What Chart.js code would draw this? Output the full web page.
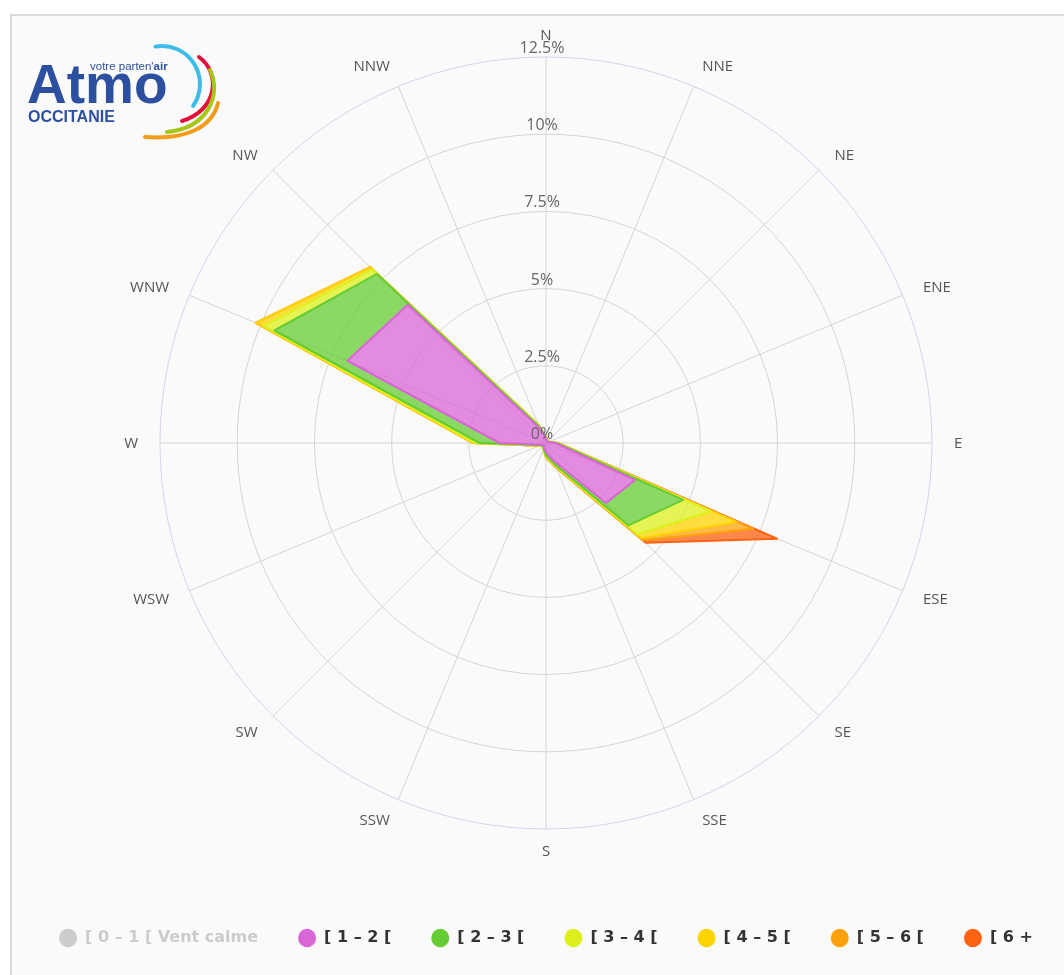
<!DOCTYPE html>
<html>
<head>
<meta charset="utf-8">
<script src="https://cdn.jsdelivr.net/npm/chart.js@4.4.1/dist/chart.umd.min.js"></script>
<style>
  html, body { margin: 0; padding: 0; background: #ffffff; overflow: hidden; width: 1064px; height: 975px; }
  #frame { position: absolute; left: 10px; top: 14px; width: 1080px; height: 990px;
           border: 2px solid #d9d9d9; background: #fafafa; }
  #wrap { position: absolute; left: -4px; top: 0; width: 1100px; height: 975px; }
  #logo { position: absolute; left: 0; top: 0; }
</style>
</head>
<body>
<div id="frame"></div>
<div id="wrap"><canvas id="rose" width="1100" height="975"></canvas></div>
<svg id="logo" width="240" height="150" font-family="Liberation Sans, Arial, sans-serif">
  <text x="90" y="70" font-size="11.5" fill="#2d4fa0">votre parten'<tspan font-weight="bold">air</tspan></text>
  <text x="27" y="103" font-size="55" font-weight="bold" fill="#2d4fa0">Atmo</text>
  <text x="28" y="122" font-size="16" font-weight="bold" fill="#2d4fa0">OCCITANIE</text>
  <g fill="none" stroke-width="4" stroke-linecap="round">
    <path d="M155.4,46.6 A38,38 0 0 1 193.1,105.8" stroke="#3bbde8"/>
    <path d="M199,57 C221,73 218,110 182,121" stroke="#e4103c"/>
    <path d="M210,70 C222,95 208,128 167,132" stroke="#a6c61a"/>
    <path d="M218,103 C212,128 185,140 145,137" stroke="#f39c1a"/>
  </g>
</svg>
<script>
const directions = ['N', 'NNE', 'NE', 'ENE', 'E', 'ESE', 'SE', 'SSE',
                    'S', 'SSW', 'SW', 'WSW', 'W', 'WNW', 'NW', 'NNW'];

const bandNames = ['[ 1 – 2 [', '[ 2 – 3 [', '[ 3 – 4 [', '[ 4 – 5 [', '[ 5 – 6 [', '[ 6 +'];
const bandColors = ['#d966d6', '#66cc33', '#ddf01c', '#ffd300', '#ffa10a', '#ff6210'];

// frequencies in %, one value per direction
const calme = [0.2, 0.2, 0.2, 0.2, 0.2, 0.2, 0.2, 0.2, 0.2, 0.2, 0.2, 0.2, 0.2, 0.2, 0.2, 0.2];
const band12 = [0.15, 0.08, 0.05, 0.08, 0.3, 3.12, 2.75, 0.6, 0.3, 0.15, 0.1, 0.15, 1.5, 6.96, 6.33, 0.5];
const band23 = [0.03, 0.02, 0.02, 0.02, 0.05, 1.69, 1.02, 0.15, 0.1, 0.05, 0.03, 0.05, 0.65, 2.56, 1.41, 0.08];
const band34 = [0.02, 0.01, 0, 0.01, 0.02, 0.96, 0.42, 0.05, 0.05, 0.02, 0, 0.03, 0.15, 0.38, 0.21, 0.03];
const band45 = [0, 0, 0, 0, 0.01, 0.92, 0.16, 0.03, 0.02, 0, 0, 0.01, 0.07, 0.27, 0.1, 0.02];
const band56 = [0, 0, 0, 0, 0, 0.57, 0.1, 0.02, 0, 0, 0, 0, 0, 0, 0, 0];
const band6p = [0, 0, 0, 0, 0.01, 0.84, 0.12, 0.02, 0, 0, 0, 0, 0, 0, 0, 0];

const tickValues = [0, 2.5, 5, 7.5, 10, 12.5];
const tickLabels = ['0%', '2.5%', '5%', '7.5%', '10%', '12.5%'];

function hexA(hex, a) {
    const n = parseInt(hex.slice(1), 16);
    return 'rgba(' + (n >> 16) + ',' + ((n >> 8) & 255) + ',' + (n & 255) + ',' + a + ')';
}

// stack the bands (radar scale has no stacking of its own)
let running = directions.map(() => 0);
const stacked = [band12, band23, band34, band45, band56, band6p].map(b => {
    running = running.map((v, i) => v + b[i]);
    return running;
});

const datasets = [{
    label: '[ 0 – 1 [ Vent calme',
    data: calme,
    hidden: true,
    borderColor: '#c8c8c8',
    backgroundColor: '#c8c8c8',
    fill: false
}];
stacked.forEach((data, k) => {
    datasets.push({
        label: bandNames[k],
        data: data,
        borderColor: bandColors[k],
        backgroundColor: hexA(bandColors[k], 0.75),
        borderWidth: 2,
        fill: k === 0 ? 'origin' : '-1'
    });
});

// percent labels sit just above each ring, direction labels outside the rim
const roseLabels = {
    id: 'roseLabels',
    afterDatasetsDraw(chart) {
        const s = chart.scales.r;
        const ctx = chart.ctx;
        ctx.save();
        ctx.font = '16px "Open Sans", sans-serif';
        ctx.fillStyle = '#666666';
        ctx.textAlign = 'center';
        ctx.textBaseline = 'alphabetic';
        tickValues.forEach((v, i) => {
            const y = s.yCenter - s.getDistanceFromCenterForValue(v);
            ctx.fillText(tickLabels[i], s.xCenter - 4, y - 4);
        });

        ctx.font = '15px "Open Sans", sans-serif';
        ctx.fillStyle = '#555555';
        ctx.textBaseline = 'middle';
        directions.forEach((d, i) => {
            const p = s.getPointPosition(i, s.drawingArea + 22);
            if (i > 0 && i < 8) ctx.textAlign = 'left';
            else if (i > 8) ctx.textAlign = 'right';
            else ctx.textAlign = 'center';
            ctx.fillText(d, p.x, p.y + 1);
        });
        ctx.restore();
    }
};

new Chart(document.getElementById('rose'), {
    type: 'radar',
    data: { labels: directions, datasets: datasets },
    plugins: [roseLabels],
    options: {
        responsive: false,
        animation: false,
        devicePixelRatio: 1,
        layout: { padding: { top: 57, bottom: 19, left: 0, right: 0 } },
        elements: {
            line: { tension: 0, borderJoinStyle: 'round' },
            point: { radius: 0, hoverRadius: 0 }
        },
        scales: {
            r: {
                min: 0,
                max: 12.5,
                ticks: { display: false, stepSize: 2.5 },
                grid: {
                    circular: true,
                    color: ctx => ctx.index === 5 ? '#ccd6eb' : '#d4d4d4',
                    lineWidth: 1
                },
                angleLines: { color: '#d4d4d4' },
                pointLabels: { display: false }
            }
        },
        plugins: {
            tooltip: { enabled: false },
            legend: {
                position: 'bottom',
                title: { display: true, text: '', font: { size: 12 }, padding: { top: 45, bottom: 0 } },
                labels: {
                    usePointStyle: true,
                    pointStyle: 'circle',
                    pointStyleWidth: 18,
                    boxHeight: 13,
                    padding: 40,
                    color: '#333333',
                    font: { family: '"DejaVu Sans", sans-serif', size: 16, weight: 'bold' },
                    generateLabels(chart) {
                        const items = Chart.defaults.plugins.legend.labels.generateLabels(chart);
                        items.forEach(it => {
                            const ds = chart.data.datasets[it.datasetIndex];
                            it.fillStyle = ds.borderColor;
                            it.strokeStyle = ds.borderColor;
                            it.lineWidth = 0;
                            if (it.hidden) {
                                it.fontColor = '#cccccc';
                                it.fillStyle = '#cccccc';
                                it.strokeStyle = '#cccccc';
                                it.hidden = false;
                            }
                        });
                        return items;
                    }
                }
            }
        }
    }
});
</script>
</body>
</html>
